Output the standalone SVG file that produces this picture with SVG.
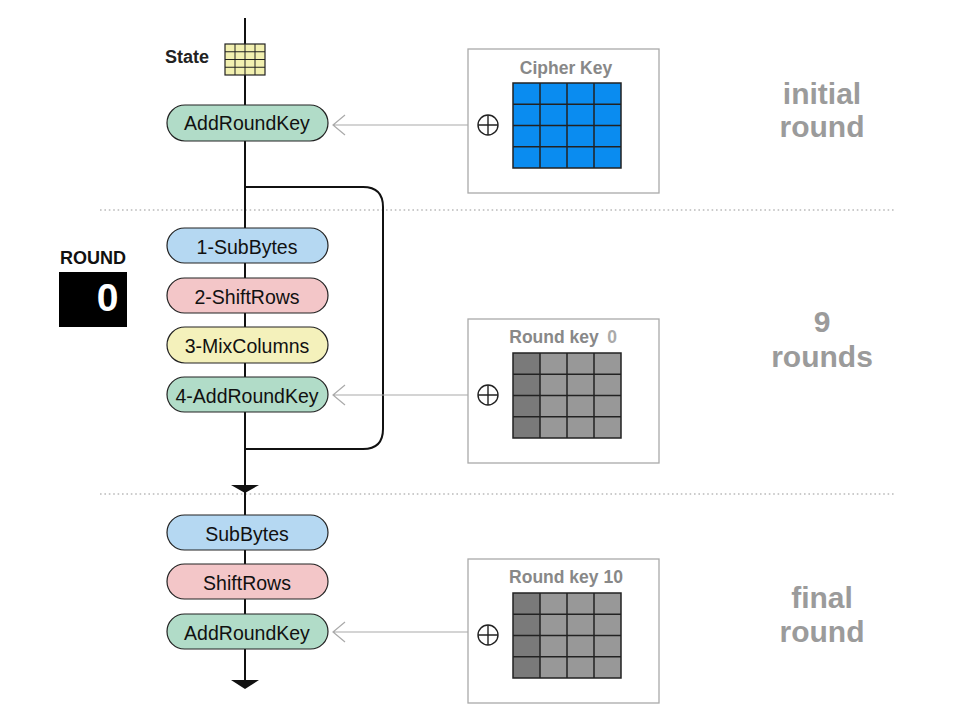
<svg xmlns="http://www.w3.org/2000/svg" width="963" height="708" viewBox="0 0 963 708">
<defs>
<style>
.pill{stroke:#222;stroke-width:1.2}
.sub{fill:#b5d8f2}
.shift{fill:#f3c6c8}
.mix{fill:#f4f1bb}
.ark{fill:#b1dcc8}
.pt{font-family:"Liberation Sans",Arial,sans-serif;font-size:19.5px;fill:#111;text-anchor:middle}
.main{stroke:#111;stroke-width:2;fill:none}
.dot{stroke:#bbb;stroke-width:1.6;stroke-dasharray:1.6 2.8;fill:none}
.keybox{fill:#fff;stroke:#aaa;stroke-width:1.3}
.ktitle{font-family:"Liberation Sans",Arial,sans-serif;font-size:17.5px;font-weight:bold;fill:#888;text-anchor:middle}
.big{font-family:"Liberation Sans",Arial,sans-serif;font-size:30px;font-weight:bold;fill:#9b9b9b;text-anchor:middle}
.feed{stroke:#aaa;stroke-width:1.2;fill:none}
.xor{stroke:#222;stroke-width:1.4;fill:none}
.grid{stroke:#222;stroke-width:1.5;fill:none}
</style>
<g id="gridlines">
<path d="M0,21.25 H108 M0,42.5 H108 M0,63.75 H108 M27,0 V85 M54,0 V85 M81,0 V85"/>
<rect x="0" y="0" width="108" height="85"/>
</g>
</defs>
<rect width="963" height="708" fill="#fff"/>

<g id="separators">
<line class="dot" x1="100" y1="210" x2="896" y2="210"/>
<line class="dot" x1="100" y1="494" x2="896" y2="494"/>
</g>

<g id="connectors">
<line class="main" x1="245" y1="18" x2="245" y2="684"/>
<path class="main" d="M245,187 H363 Q383,187 383,207 V429 Q383,449 363,449 H245"/>
<polygon points="231,485 259,485 245,493" fill="#111"/>
<polygon points="231,680 259,680 245,689" fill="#111"/>
<path class="feed" d="M476,125 H333 M345,115 L333,125 L345,135"/>
<path class="feed" d="M476,395 H333 M345,385 L333,395 L345,405"/>
<path class="feed" d="M476,632 H333 M345,622 L333,632 L345,642"/>
</g>

<g id="state">
<text x="187" y="63" font-family="Liberation Sans,Arial,sans-serif" font-size="18" font-weight="bold" fill="#222" text-anchor="middle">State</text>
<rect x="225" y="44" width="40" height="31" fill="#f2f0b0"/>
<path d="M225,51.75 H265 M225,59.5 H265 M225,67.25 H265 M235,44 V75 M245,44 V75 M255,44 V75" stroke="#222" stroke-width="1"/>
<rect x="225" y="44" width="40" height="31" fill="none" stroke="#222" stroke-width="1.2"/>
</g>

<g id="addroundkey-initial">
<rect class="pill ark" x="167" y="105" width="161" height="36" rx="18"/>
<text class="pt" x="247" y="130">AddRoundKey</text>
</g>

<g id="round-counter">
<text x="93" y="264" font-family="Liberation Sans,Arial,sans-serif" font-size="18" font-weight="bold" fill="#111" text-anchor="middle">ROUND</text>
<rect x="59" y="272" width="68" height="55" fill="#000"/>
<text x="107.5" y="311" font-family="Liberation Sans,Arial,sans-serif" font-size="39" font-weight="bold" fill="#fff" text-anchor="middle">0</text>
</g>

<g id="subbytes-1">
<rect class="pill sub" x="167" y="228" width="161" height="35" rx="17.5"/>
<text class="pt" x="247" y="254">1-SubBytes</text>
</g>
<g id="shiftrows-2">
<rect class="pill shift" x="167" y="278" width="161" height="35" rx="17.5"/>
<text class="pt" x="247" y="304">2-ShiftRows</text>
</g>
<g id="mixcolumns-3">
<rect class="pill mix" x="167" y="327" width="161" height="36" rx="18"/>
<text class="pt" x="247" y="353">3-MixColumns</text>
</g>
<g id="addroundkey-4">
<rect class="pill ark" x="167" y="377" width="161" height="35" rx="17.5"/>
<text class="pt" x="247" y="403">4-AddRoundKey</text>
</g>

<g id="subbytes-final">
<rect class="pill sub" x="167" y="515" width="161" height="35" rx="17.5"/>
<text class="pt" x="247" y="541">SubBytes</text>
</g>
<g id="shiftrows-final">
<rect class="pill shift" x="167" y="564" width="161" height="35" rx="17.5"/>
<text class="pt" x="247" y="590">ShiftRows</text>
</g>
<g id="addroundkey-final">
<rect class="pill ark" x="167" y="614" width="161" height="35" rx="17.5"/>
<text class="pt" x="247" y="640">AddRoundKey</text>
</g>

<g id="cipher-key">
<rect class="keybox" x="468" y="49" width="191" height="144"/>
<text class="ktitle" x="566" y="74">Cipher Key</text>
<rect x="513" y="83" width="108" height="85" fill="#0a8cf0"/>
<use href="#gridlines" x="513" y="83" class="grid"/>
<circle class="xor" cx="488" cy="125" r="10"/>
<path class="xor" d="M478,125 H498 M488,115 V135"/>
</g>

<g id="round-key-0">
<rect class="keybox" x="468" y="319" width="191" height="144"/>
<text class="ktitle" x="554" y="343">Round key</text>
<text class="ktitle" x="612" y="343" style="fill:#aaa">0</text>
<rect x="513" y="353" width="108" height="85" fill="#989898"/>
<rect x="513" y="353" width="27" height="85" fill="#7a7a7a"/>
<use href="#gridlines" x="513" y="353" class="grid"/>
<circle class="xor" cx="488" cy="395" r="10"/>
<path class="xor" d="M478,395 H498 M488,385 V405"/>
</g>

<g id="round-key-10">
<rect class="keybox" x="468" y="559" width="191" height="144"/>
<text class="ktitle" x="566" y="583">Round key 10</text>
<rect x="513" y="593" width="108" height="85" fill="#989898"/>
<rect x="513" y="593" width="27" height="85" fill="#7a7a7a"/>
<use href="#gridlines" x="513" y="593" class="grid"/>
<circle class="xor" cx="488" cy="635" r="10"/>
<path class="xor" d="M478,635 H498 M488,625 V645"/>
</g>

<g id="phase-labels">
<text class="big" x="822" y="104">initial</text>
<text class="big" x="822" y="137">round</text>
<text class="big" x="822" y="332">9</text>
<text class="big" x="822" y="367">rounds</text>
<text class="big" x="822" y="608">final</text>
<text class="big" x="822" y="642">round</text>
</g>
</svg>
